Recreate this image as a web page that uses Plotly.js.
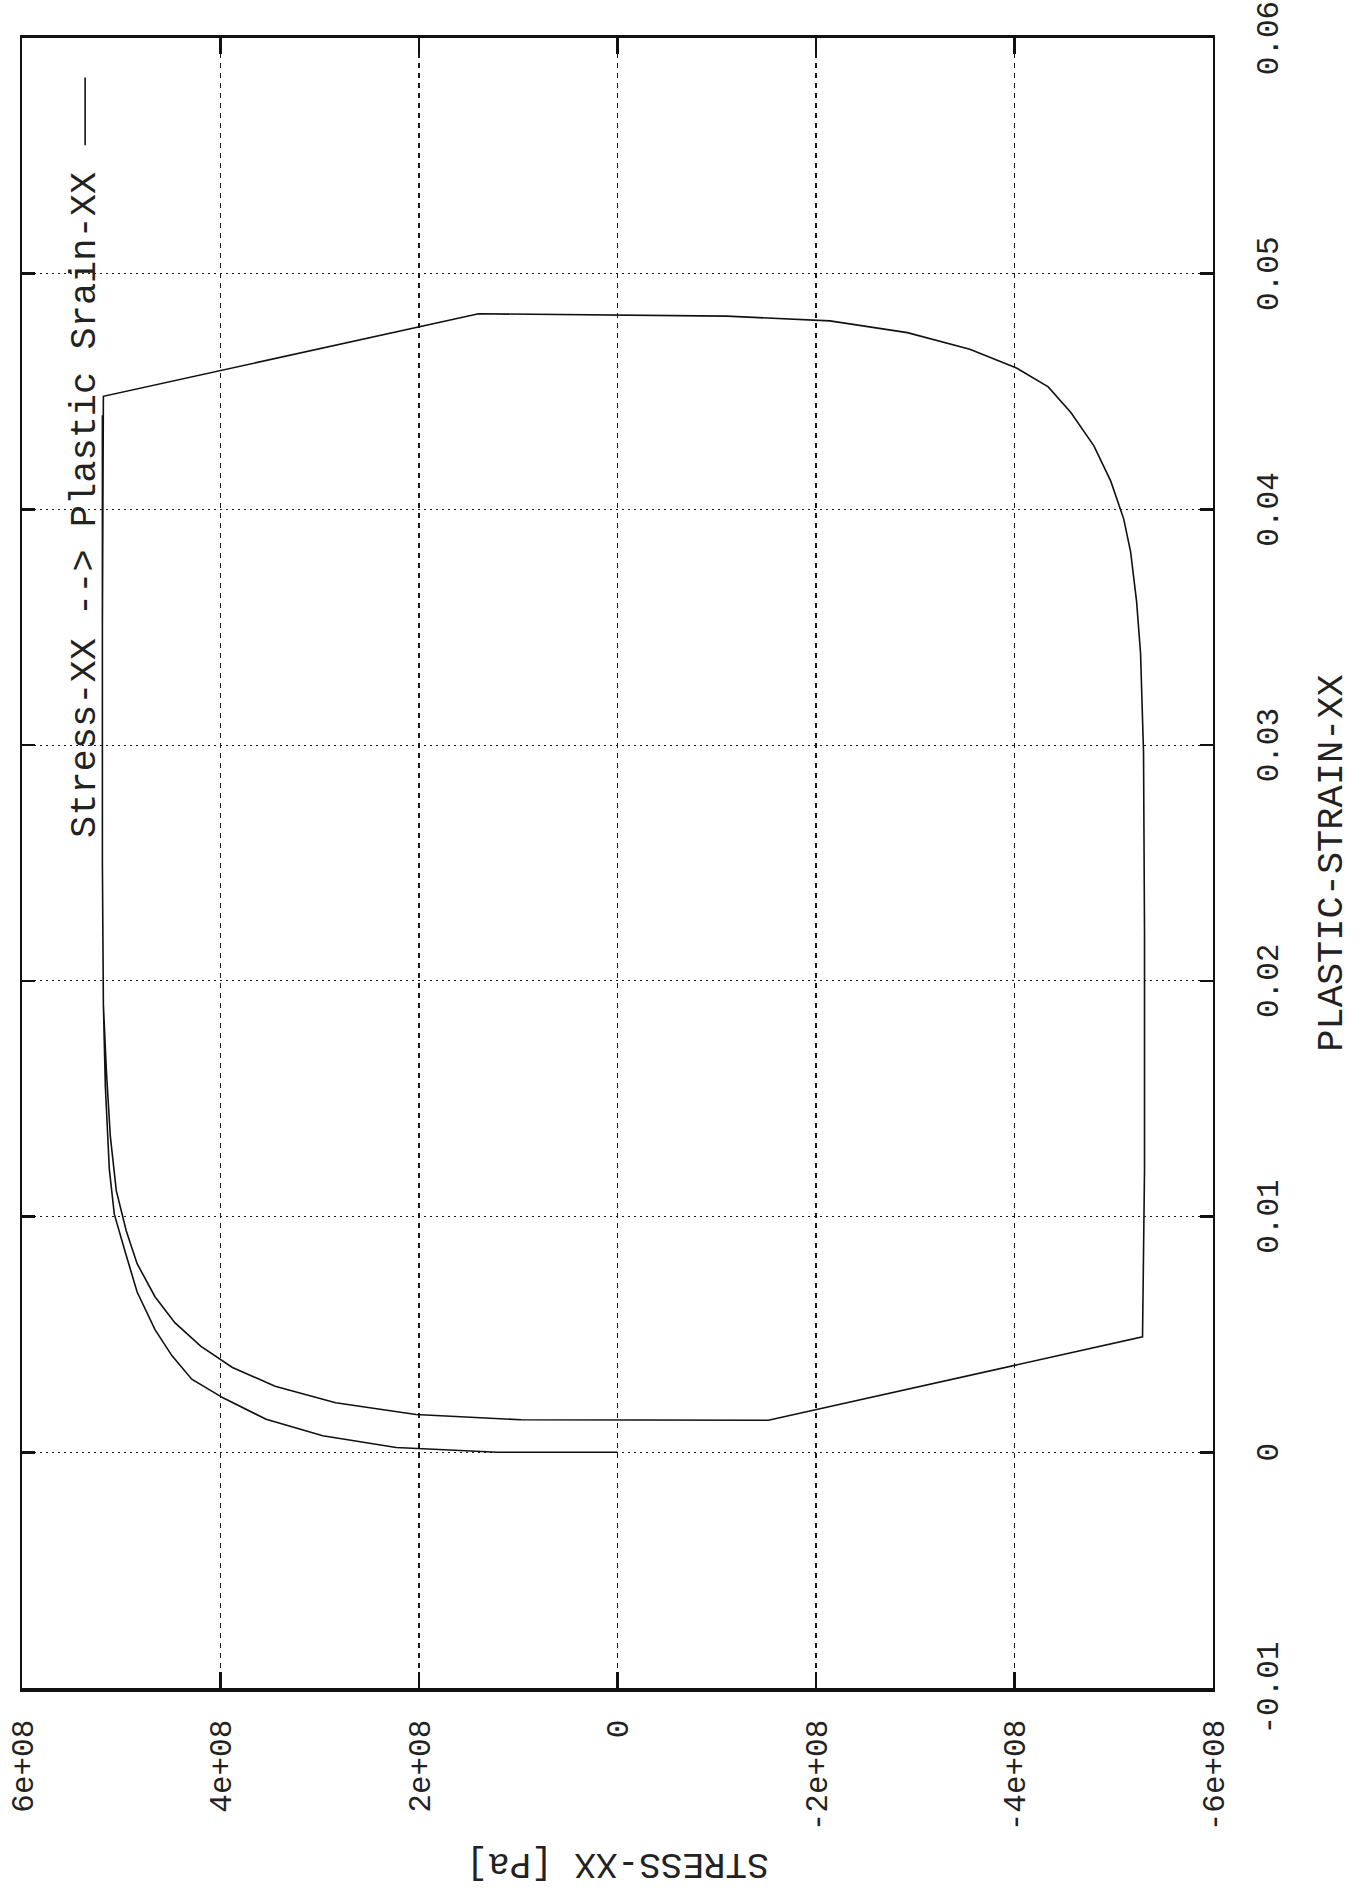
<!DOCTYPE html>
<html>
<head>
<meta charset="utf-8">
<script src="https://cdn.plot.ly/plotly-3.0.1.min.js"></script>
<style>
html, body { margin: 0; padding: 0; background: #fff; width: 1370px; height: 1897px; overflow: hidden; }
#wrap { position: absolute; left: 0; top: 0; width: 1897px; height: 1370px;
        transform-origin: 0 0; transform: translate(0px, 1897px) rotate(-90deg); }
#chart { width: 1897px; height: 1370px; }
</style>
</head>
<body>
<div id="wrap"><div id="chart"></div></div>
<script>
// ---- tick data ----
const strainTicks = [-0.01, 0, 0.01, 0.02, 0.03, 0.04, 0.05, 0.06];
const strainTickText = ['-0.01', '0', '0.01', '0.02', '0.03', '0.04', '0.05', '0.06'];
const stressTicks = [-6e8, -4e8, -2e8, 0, 2e8, 4e8, 6e8];
const stressTickText = ['-6e+08', '-4e+08', '-2e+08', '0', '2e+08', '4e+08', '6e+08'];

// ---- curve data (plastic strain, stress) ----
const firstLoadStrain = [0, 0, 0.0002, 0.0007, 0.0014, 0.0023, 0.0031, 0.0041, 0.0052, 0.0068, 0.0085, 0.0101, 0.012, 0.0155, 0.019, 0.025, 0.035, 0.0448];
const firstLoadStress = [0, 1.21e8, 2.23e8, 2.97e8, 3.54e8, 3.97e8, 4.29e8, 4.49e8, 4.66e8, 4.84e8, 4.96e8, 5.07e8, 5.12e8, 5.16e8, 5.18e8, 5.19e8, 5.19e8, 5.18e8];

const reverseStrain = [0.0483, 0.0482, 0.0480, 0.0475, 0.0468, 0.0460, 0.0452, 0.0441, 0.0427, 0.0412, 0.0396, 0.0382, 0.0361, 0.0339, 0.0297, 0.022, 0.012, 0.0049];
const reverseStress = [1.40e8, -1.10e8, -2.14e8, -2.92e8, -3.55e8, -4.02e8, -4.34e8, -4.57e8, -4.80e8, -4.97e8, -5.10e8, -5.17e8, -5.23e8, -5.27e8, -5.30e8, -5.31e8, -5.31e8, -5.29e8];

const reloadStrain = [0.00136, 0.00138, 0.0016, 0.0021, 0.0028, 0.0036, 0.0045, 0.0055, 0.0066, 0.008, 0.0094, 0.0111, 0.0134, 0.0162, 0.019, 0.025, 0.035, 0.044];
const reloadStress = [-1.52e8, 0.97e8, 2.03e8, 2.84e8, 3.45e8, 3.88e8, 4.20e8, 4.46e8, 4.66e8, 4.84e8, 4.95e8, 5.05e8, 5.11e8, 5.15e8, 5.18e8, 5.19e8, 5.19e8, 5.19e8];

const seriesName = 'Stress-XX --&gt; Plastic Srain-XX';

const FONT = '"Liberation Mono", "Courier New", monospace';

const trace = {
  type: 'scatter',
  mode: 'lines',
  name: seriesName,
  x: firstLoadStrain.concat(reverseStrain, reloadStrain),
  y: firstLoadStress.concat(reverseStress, reloadStress),
  line: { color: '#111', width: 1.6 },
  hoverinfo: 'skip'
};

const layout = {
  width: 1897,
  height: 1370,
  margin: { l: 209, r: 38, t: 22, b: 157, pad: 0 },
  paper_bgcolor: '#fff',
  plot_bgcolor: '#fff',
  showlegend: false,
  xaxis: {
    range: [-0.01, 0.06],
    tickmode: 'array',
    tickvals: strainTicks,
    ticktext: strainTickText,
    ticks: 'inside', ticklen: 13, tickwidth: 2.5, tickcolor: '#111',
    showline: true, linecolor: '#111', linewidth: 2, mirror: 'ticks',
    showgrid: true, gridcolor: '#1a1a1a', gridwidth: 1.1, griddash: '2px,4px',
    zeroline: false,
    tickfont: { family: FONT, size: 31, color: '#222' },
    ticklabelstandoff: 26,
    title: { text: 'PLASTIC-STRAIN-XX', font: { family: FONT, size: 37, color: '#222' }, standoff: 30 }
  },
  yaxis: {
    range: [-6e8, 6e8],
    tickmode: 'array',
    tickvals: stressTicks,
    ticktext: stressTickText,
    ticks: 'inside', ticklen: 16, tickwidth: 2.5, tickcolor: '#111',
    showline: true, linecolor: '#111', linewidth: 3.5, mirror: 'ticks',
    showgrid: true, gridcolor: '#1a1a1a', gridwidth: 1.1, griddash: '5px,5px',
    zeroline: false,
    tickfont: { family: FONT, size: 31, color: '#222' },
    ticklabelstandoff: 22,
    title: { text: 'STRESS-XX [Pa]', font: { family: FONT, size: 36, color: '#222' }, standoff: 12 }
  },
  annotations: [{
    xref: 'paper', yref: 'paper', x: 0.92, y: 0.947, xanchor: 'right', yanchor: 'middle',
    text: seriesName, showarrow: false,
    font: { family: FONT, size: 37, color: '#222' }
  }],
  shapes: [{
    type: 'line', xref: 'paper', yref: 'paper', x0: 0.935, x1: 0.976, y0: 0.947, y1: 0.947,
    line: { color: '#111', width: 1.6 }
  }]
};

Plotly.newPlot('chart', [trace], layout, { staticPlot: true, displayModeBar: false });
</script>
</body>
</html>
